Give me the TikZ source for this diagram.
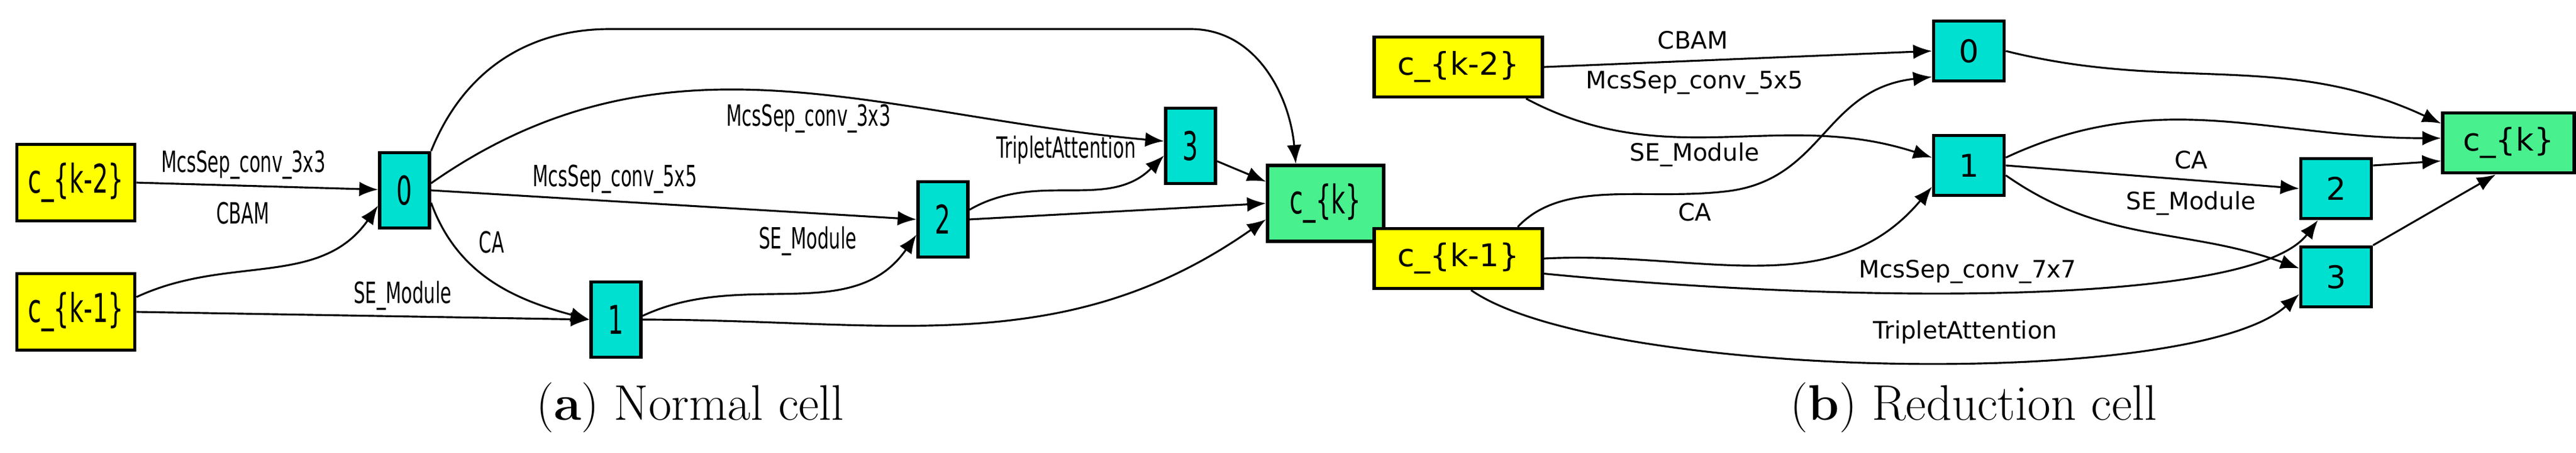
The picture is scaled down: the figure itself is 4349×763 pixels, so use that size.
\documentclass[tikz,border=0pt]{standalone}
\usepackage{fontspec}
\usepackage{graphicx}
\newfontfamily\lab{DejaVu Sans}
\usetikzlibrary{arrows.meta,calc}
\newcommand\sqz[1]{\scalebox{0.62}[1]{#1}}
\definecolor{inyel}{HTML}{FFFF00}
\definecolor{opcyan}{HTML}{00E0D0}
\definecolor{outgrn}{HTML}{48F08E}
\begin{document}
\begin{tikzpicture}[x=0.01cm,y=0.01cm,
  box/.style={draw=black,line width=1.6pt,inner sep=0pt,anchor=center},
  ina/.style={box,fill=inyel,minimum width=1.99cm,minimum height=1.29cm,font=\lab\fontsize{19}{22}\selectfont},
  opa/.style={box,fill=opcyan,minimum width=0.84cm,minimum height=1.27cm,font=\lab\fontsize{19}{22}\selectfont},
  outa/.style={box,fill=outgrn,minimum width=1.96cm,minimum height=1.28cm,font=\lab\fontsize{19}{22}\selectfont},
  inb/.style={box,fill=inyel,minimum width=2.84cm,minimum height=1.01cm,font=\lab\fontsize{15}{18}\selectfont},
  opb/.style={box,fill=opcyan,minimum width=1.19cm,minimum height=1.01cm,font=\lab\fontsize{15}{18}\selectfont},
  outb/.style={box,fill=outgrn,minimum width=2.22cm,minimum height=1.01cm,font=\lab\fontsize{15}{18}\selectfont},
  la/.style={font=\lab\fontsize{14}{16}\selectfont,inner sep=1pt},
  lb/.style={font=\lab\fontsize{11.5}{14}\selectfont,inner sep=1pt},
  captxt/.style={font=\fontsize{24}{28}\selectfont},
  e/.style={draw=black,line width=0.9pt,-{Latex[length=9pt,width=7pt]}}]
\useasboundingbox (0,0) rectangle (4349,-763);
% ---------- panel a ----------
\node[ina] (ak2) at (128,-308) {\sqz{c\_\{k-2\}}};
\node[ina] (ak1) at (128,-526) {\sqz{c\_\{k-1\}}};
\node[opa] (a0) at (683,-321) {\sqz{0}};
\node[opa] (a1) at (1040,-539) {\sqz{1}};
\node[opa] (a2) at (1592,-370) {\sqz{2}};
\node[opa] (a3) at (2010,-246) {\sqz{3}};
\node[outa] (ack) at (2238,-343) {\sqz{c\_\{k\}}};
\coordinate (atopL) at (1030,-49);
\coordinate (atopR) at (2010,-49);
\draw[e] (ak2.east) -- (a0);
\draw[e] ($(ak1.east)+(0,25)$) to[out=25,in=-125] (a0.-150);
\draw[e] (ak1.east) -- (a1.west);
\draw[e] (a0.-25) to[out=-70,in=165] (a1.west);
\draw[e] (a0.east) -- (a2.west);
\draw[e] (a0.15) to[out=35,in=175] (a3.170);
\draw[e] (a1.8) to[out=25,in=-125] (a2.-150);
\draw[e] (a2.20) to[out=30,in=-135] (a3.-160);
\draw[e] (a3.-30) -- (ack.160);
\draw[e] (a2.east) -- (ack.west);
\draw[e] (a1.east) to[out=0,in=-145] (ack.-165);
\draw[e] (a0.north east) to[out=68,in=180] (atopL) -- (atopR) to[out=0,in=95] (ack.127);
\node[la] (la1) at (411,-278) {\sqz{McsSep\_conv\_3x3}};
\node[la] (la2) at (410,-360) {\sqz{CBAM}};
\node[la] (la3) at (680,-499) {\sqz{SE\_Module}};
\node[la] (la4) at (830,-409) {\sqz{CA}};
\node[la] (la5) at (1038,-302) {\sqz{McsSep\_conv\_5x5}};
\node[la] (la6) at (1365,-200) {\sqz{McsSep\_conv\_3x3}};
\node[la] (la7) at (1364,-407) {\sqz{SE\_Module}};
\node[la] (la8) at (1800,-253) {\sqz{TripletAttention}};
\node[captxt] (capa) at (1165,-687) {(\textbf{a}) Normal cell};
% ---------- panel b ----------
\node[inb] (bk2) at (2462,-113) {c\_\{k-2\}};
\node[inb] (bk1) at (2462,-436) {c\_\{k-1\}};
\node[opb] (b0) at (3324,-86) {0};
\node[opb] (b1) at (3324,-279) {1};
\node[opb] (b2) at (3944,-318) {2};
\node[opb] (b3) at (3944,-467) {3};
\node[outb] (bck) at (4235,-241) {c\_\{k\}};
\coordinate (bsem) at (2920,-322);
\draw[e] (bk2.east) -- (b0.west);
\draw[e] (bk2.-25) to[out=-28,in=162] (b1.168);
\draw[e] (bk1.28) .. controls (2640,-300) and (2780,-340) .. (bsem) .. controls (3080,-300) and (3080,-150) .. (b0.-145);
\draw[e] (bk1.east) to[out=3,in=-130] (b1.-150);
\draw[e] (bk1.-10) .. controls (3100,-510) and (3800,-520) .. (b2.-120);
\draw[e] (bk1.-68) .. controls (2700,-640) and (3700,-660) .. (b3.-155);
\draw[e] (b1.east) -- (b2.west);
\draw[e] (b1.-15) to[out=-35,in=160] (b3.167);
\draw[e] (b0.east) to[out=-14,in=155] (bck.164);
\draw[e] (b1.12) to[out=25,in=180] (bck.176);
\draw[e] (b2.32) -- (bck.-165);
\draw[e] (b3.north east) -- (bck.-112);
\node[lb] (lb1) at (2858,-68) {CBAM};
\node[lb] (lb2) at (2861,-139) {McsSep\_conv\_5x5};
\node[lb] (lb3) at (2861,-261) {SE\_Module};
\node[lb] (lb4) at (2861,-358) {CA};
\node[lb] (lb5) at (3322,-458) {McsSep\_conv\_7x7};
\node[lb] (lb6) at (3318,-560) {TripletAttention};
\node[lb] (lb7) at (3699,-270) {CA};
\node[lb] (lb8) at (3699,-343) {SE\_Module};
\node[captxt] (capb) at (3332,-687) {(\textbf{b}) Reduction cell};
\end{tikzpicture}
\end{document}
